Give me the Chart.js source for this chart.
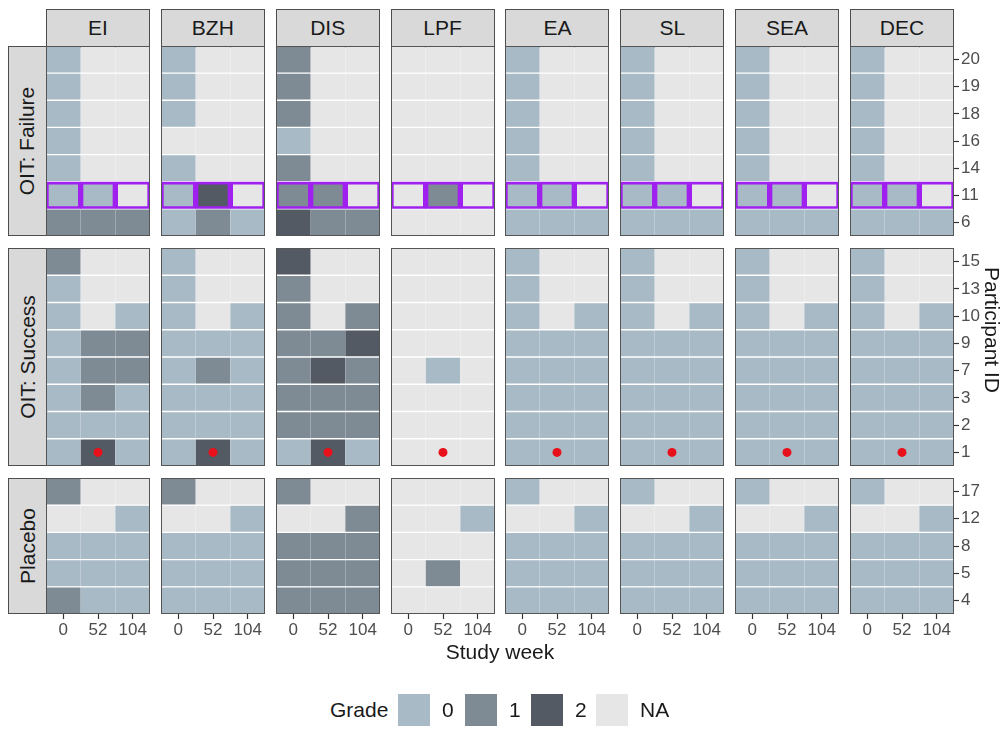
<!DOCTYPE html>
<html>
<head>
<meta charset="utf-8">
<script src="https://cdn.jsdelivr.net/npm/chart.js@4.4.1/dist/chart.umd.min.js"></script>
<style>
  html, body { margin:0; padding:0; background:#fff; }
  body { width:1006px; height:729px; position:relative; overflow:hidden;
         font-family:"Liberation Sans", Arial, sans-serif; color:#1a1a1a; }
  .abs { position:absolute; }
  .strip { position:absolute; background:#d9d9d9; border:1.5px solid #4d4d4d; box-sizing:border-box;
           display:flex; align-items:center; justify-content:center; font-size:21px; }
  .rstrip span { transform:rotate(-90deg); white-space:nowrap; display:block; }
  .frame { position:absolute; border:1.6px solid #555; box-sizing:border-box; pointer-events:none; }
  .title { position:absolute; font-size:21px; white-space:nowrap; }
  .key { position:absolute; width:32px; height:32px; }
</style>
</head>
<body>
<div id="root"></div>
<script>
// === Facets ===
const weeks  = ['0', '52', '104'];
const tests  = ['EI', 'BZH', 'DIS', 'LPF', 'EA', 'SL', 'SEA', 'DEC'];
const groups = ['OIT: Failure', 'OIT: Success', 'Placebo'];

// participant IDs per group, top to bottom
const failureIds = [20, 19, 18, 16, 14, 11, 6];
const successIds = [15, 13, 10, 9, 7, 3, 2, 1];
const placeboIds = [17, 12, 8, 5, 4];
const groupIds = [failureIds, successIds, placeboIds];

const highlightId = 11;   // boxed row in OIT: Failure
const markerId = 1;       // red dot row in OIT: Success
const markerWeek = '52';

// === Grades (rows = failure ids, success ids, placebo ids; cols = weeks 0/52/104) ===
const N = null;
const gradesEI = [
  [0,N,N],[0,N,N],[0,N,N],[0,N,N],[0,N,N],[0,0,N],[1,1,1],
  [1,N,N],[0,N,N],[0,N,0],[0,1,1],[0,1,1],[0,1,0],[0,0,0],[0,2,0],
  [1,N,N],[N,N,0],[0,0,0],[0,0,0],[1,0,0]
];
const gradesBZH = [
  [0,N,N],[0,N,N],[0,N,N],[N,N,N],[0,N,N],[0,2,N],[0,1,0],
  [0,N,N],[0,N,N],[0,N,0],[0,0,0],[0,1,0],[0,0,0],[0,0,0],[0,2,0],
  [1,N,N],[N,N,0],[0,0,0],[0,0,0],[0,0,0]
];
const gradesDIS = [
  [1,N,N],[1,N,N],[1,N,N],[0,N,N],[1,N,N],[1,1,N],[2,1,1],
  [2,N,N],[1,N,N],[1,N,1],[1,1,2],[1,2,1],[1,1,1],[1,1,1],[0,2,0],
  [1,N,N],[N,N,1],[1,1,1],[1,1,1],[1,1,1]
];
const gradesLPF = [
  [N,N,N],[N,N,N],[N,N,N],[N,N,N],[N,N,N],[N,1,N],[N,N,N],
  [N,N,N],[N,N,N],[N,N,N],[N,N,N],[N,0,N],[N,N,N],[N,N,N],[N,N,N],
  [N,N,N],[N,N,0],[N,N,N],[N,1,N],[N,N,N]
];
const gradesEA = [
  [0,N,N],[0,N,N],[0,N,N],[0,N,N],[0,N,N],[0,0,N],[0,0,0],
  [0,N,N],[0,N,N],[0,N,0],[0,0,0],[0,0,0],[0,0,0],[0,0,0],[0,0,0],
  [0,N,N],[N,N,0],[0,0,0],[0,0,0],[0,0,0]
];
const gradesSL  = gradesEA.map(r => r.slice());
const gradesSEA = gradesEA.map(r => r.slice());
const gradesDEC = gradesEA.map(r => r.slice());
const gradeTable = [gradesEI, gradesBZH, gradesDIS, gradesLPF, gradesEA, gradesSL, gradesSEA, gradesDEC];

const gradeLabels = ['0', '1', '2', 'NA'];
const gradeColors = ['#a8bac6', '#7e8b95', '#535a64', '#e6e6e6'];
const cellColor = v => v === null ? gradeColors[3] : gradeColors[v];

// === Layout ===
const PX0 = 46, PSTEP = 114.85, PW = 104;
const panelTops = [46, 248, 478];
const UNIT = 27.2;
const AXW = 50, AXH = 30;
const tickFont = {family:'"Liberation Sans", Arial, sans-serif', size:17};
const root = document.getElementById('root');

function el(cls, css, html){
  const d = document.createElement('div');
  d.className = cls;
  Object.assign(d.style, css);
  if(html !== undefined) d.innerHTML = html;
  root.appendChild(d);
  return d;
}

// column strips
tests.forEach((t, i) => {
  el('strip', {left:(PX0 + i*PSTEP)+'px', top:'9px', width:PW+'px', height:'38.5px'}, t);
});

groups.forEach((gname, g) => {
  const ids = groupIds[g];
  const ph = Math.round(ids.length * UNIT);
  const top = panelTops[g];
  const offset = groupIds.slice(0, g).reduce((a, b) => a + b.length, 0);
  el('strip rstrip', {left:'8px', top:top+'px', width:'39.5px', height:ph+'px'}, '<span>'+gname+'</span>');

  const idsRev = ids.slice().reverse();
  tests.forEach((t, i) => {
    const rows = gradeTable[i].slice(offset, offset + ids.length).reverse();
    const showX = g === groups.length - 1;
    const showY = i === tests.length - 1;
    const left = PX0 + i*PSTEP;
    const cw = PW + (showY ? AXW : 0), ch = ph + (showX ? AXH : 0);
    const box = el('abs', {left:left+'px', top:top+'px', width:cw+'px', height:ch+'px'});
    const cv = document.createElement('canvas');
    cv.width = cw; cv.height = ch;
    cv.style.width = cw+'px'; cv.style.height = ch+'px';
    box.appendChild(cv);

    const datasets = idsRev.map((id, k) => {
      const hl = g === 0 && id === highlightId;
      return {
        type:'bar', label:String(id), data:weeks.map(() => 1),
        backgroundColor: rows[k].map(cellColor),
        borderColor: hl ? '#a020f0' : '#ffffff',
        borderWidth: hl ? 3 : {top:1, bottom:1, left:0, right:0},
        borderSkipped:false, barPercentage:1, categoryPercentage:1,
        stack:'cells', order:1
      };
    });
    if(g === 1){
      datasets.push({
        type:'line', label:'marker', showLine:false, stack:'dots', order:0,
        data:[{x:markerWeek, y:idsRev.indexOf(markerId) + 0.5}],
        pointRadius:4.5, pointBackgroundColor:'#e8101a', pointBorderWidth:0
      });
    }

    new Chart(cv, {
      data:{labels:weeks, datasets},
      options:{
        responsive:false, animation:false, events:[],
        layout:{padding:0, autoPadding:false},
        plugins:{legend:{display:false}, tooltip:{enabled:false}},
        scales:{
          x:{
            type:'category', stacked:true, offset:true, display:showX,
            grid:{display:true, drawOnChartArea:false, offset:false, tickLength:5, tickColor:'#333', tickWidth:1.2},
            border:{display:false},
            ticks:{color:'#4d4d4d', font:tickFont, padding:1, maxRotation:0, autoSkip:false},
            afterFit: s => { s.height = showX ? AXH : 0; s.paddingLeft = 0; s.paddingRight = 0; }
          },
          y:{
            type:'linear', stacked:true, min:0, max:ids.length, position:'right', display:showY,
            grid:{display:true, drawOnChartArea:false, tickLength:5, tickColor:'#333', tickWidth:1.2},
            border:{display:false},
            afterBuildTicks: s => { s.ticks = idsRev.map((_, k) => ({value:k + 0.5})); },
            ticks:{color:'#4d4d4d', font:tickFont, padding:2, autoSkip:false,
                   callback: v => String(idsRev[Math.floor(v)])},
            afterFit: s => { s.width = showY ? AXW : 0; s.paddingTop = 0; s.paddingBottom = 0; }
          }
        }
      }
    });
    el('frame', {left:left+'px', top:top+'px', width:PW+'px', height:ph+'px'});
  });
});

// axis titles
el('title', {left:'500px', top:'652px', transform:'translate(-50%,-50%)'}, 'Study week');
el('title', {left:'992px', top:'330px', transform:'translate(-50%,-50%) rotate(90deg)'}, 'Participant ID');

// legend
el('title', {left:'330px', top:'710px', transform:'translateY(-50%)'}, 'Grade');
const keyX = [398, 465, 531, 596];
gradeLabels.forEach((lab, k) => {
  el('key', {left:keyX[k]+'px', top:'694px', background:gradeColors[k]});
  el('title', {left:(keyX[k] + 44)+'px', top:'710px', transform:'translateY(-50%)'}, lab);
});
</script>
</body>
</html>
